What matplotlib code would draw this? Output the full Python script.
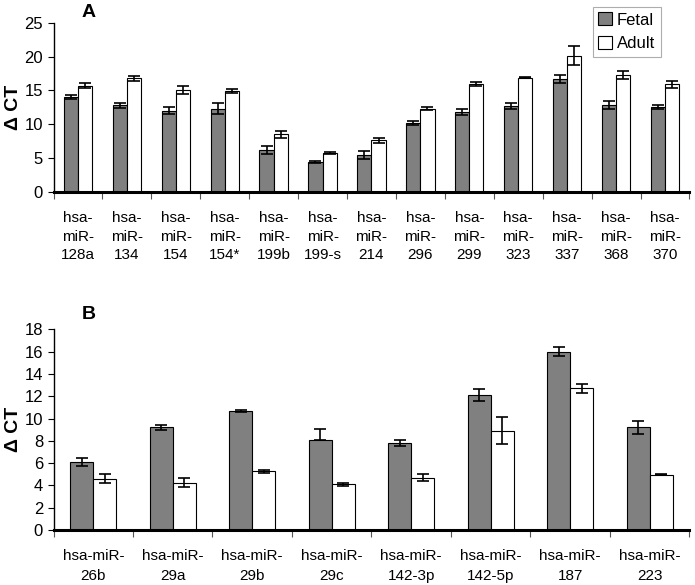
import numpy as np
import matplotlib
matplotlib.use("Agg")
import matplotlib.pyplot as plt
from matplotlib.patches import Patch

plt.rcParams["font.family"] = ["Liberation Sans", "DejaVu Sans"]

# Panel A data
labels_a = ["128a", "134", "154", "154*", "199b", "199-s", "214",
            "296", "299", "323", "337", "368", "370"]
fetal_a = [14.0, 12.8, 12.0, 12.3, 6.2, 4.4, 5.5, 10.2, 11.8, 12.7, 16.7, 12.8, 12.5]
fetal_a_err = [0.3, 0.4, 0.5, 0.8, 0.6, 0.15, 0.6, 0.3, 0.5, 0.4, 0.6, 0.6, 0.3]
adult_a = [15.7, 16.8, 15.1, 14.9, 8.5, 5.7, 7.6, 12.3, 16.0, 16.9, 20.1, 17.3, 15.9]
adult_a_err = [0.4, 0.4, 0.6, 0.3, 0.5, 0.15, 0.4, 0.2, 0.3, 0.1, 1.4, 0.6, 0.5]

# Panel B data
labels_b = ["26b", "29a", "29b", "29c", "142-3p", "142-5p", "187", "223"]
fetal_b = [6.1, 9.2, 10.7, 8.1, 7.8, 12.1, 16.0, 9.2]
fetal_b_err_lo = [0.4, 0.2, 0.1, 0.0, 0.3, 0.55, 0.4, 0.55]
fetal_b_err_hi = [0.4, 0.2, 0.1, 1.0, 0.3, 0.55, 0.4, 0.55]
adult_b = [4.6, 4.25, 5.25, 4.1, 4.7, 8.9, 12.7, 4.95]
adult_b_err = [0.4, 0.4, 0.15, 0.15, 0.3, 1.2, 0.4, 0.05]

GRAY = "#808080"


def draw_panel(ax, fetal, fetal_err, adult, adult_err, ymax, ystep, ticklabels,
               spacing):
    n = len(fetal)
    x = np.arange(n)
    w = 0.29
    ekw = dict(elinewidth=1.2, capthick=1.2)
    ax.bar(x - w / 2, fetal, w, color=GRAY, edgecolor="black", linewidth=0.8,
           yerr=fetal_err, capsize=4, error_kw=ekw, zorder=2)
    ax.bar(x + w / 2, adult, w, color="white", edgecolor="black", linewidth=0.8,
           yerr=adult_err, capsize=4, error_kw=ekw, zorder=2)
    ax.set_xlim(-0.5, n - 0.5)
    ax.set_ylim(0, ymax)
    ax.set_yticks(np.arange(0, ymax + 0.1, ystep))
    ax.spines["top"].set_visible(False)
    ax.spines["right"].set_visible(False)
    ax.spines["bottom"].set_linewidth(2.2)
    ax.spines["left"].set_linewidth(1.0)
    # boundary ticks on x, labels at centres
    ax.set_xticks(np.arange(n + 1) - 0.5)
    ax.set_xticklabels([])
    ax.set_xticks(x, minor=True)
    ax.set_xticklabels(ticklabels, minor=True, fontsize=11, linespacing=spacing)
    ax.tick_params(axis="x", which="major", direction="out", length=5, width=0.8,
                   colors="#555555")
    ax.tick_params(axis="x", which="minor", length=0, pad=14)
    ax.tick_params(axis="y", direction="out", length=4, width=0.8, labelsize=12)
    ax.set_ylabel("\u0394 CT", fontsize=14, fontweight="bold", labelpad=2)


fig = plt.figure(figsize=(6.95, 5.85), dpi=100)

ax_a = fig.add_axes([0.077, 0.672, 0.915, 0.289])
draw_panel(ax_a, fetal_a, fetal_a_err, adult_a, adult_a_err, 25, 5,
           ["hsa-\nmiR-\n" + s for s in labels_a], 1.4)

ax_b = fig.add_axes([0.077, 0.094, 0.915, 0.343])
draw_panel(ax_b, fetal_b, [fetal_b_err_lo, fetal_b_err_hi], adult_b, adult_b_err,
           18, 2, ["hsa-miR-\n" + s for s in labels_b], 1.5)

fig.text(0.127, 0.978, "A", fontsize=14, fontweight="bold", ha="center", va="center")
fig.text(0.127, 0.462, "B", fontsize=14, fontweight="bold", ha="center", va="center")

handles = [Patch(facecolor=GRAY, edgecolor="black", linewidth=0.8, label="Fetal"),
           Patch(facecolor="white", edgecolor="black", linewidth=0.8, label="Adult")]
leg = fig.legend(handles=handles, loc="upper left", bbox_to_anchor=(0.843, 1.0),
                 fontsize=12, frameon=True, fancybox=False, handlelength=0.8,
                 handleheight=0.8, handletextpad=0.3, borderpad=0.35,
                 labelspacing=0.5, borderaxespad=0.4)
leg.get_frame().set_edgecolor("#999999")
leg.get_frame().set_linewidth(0.8)

fig.savefig("out.png", dpi=100)
